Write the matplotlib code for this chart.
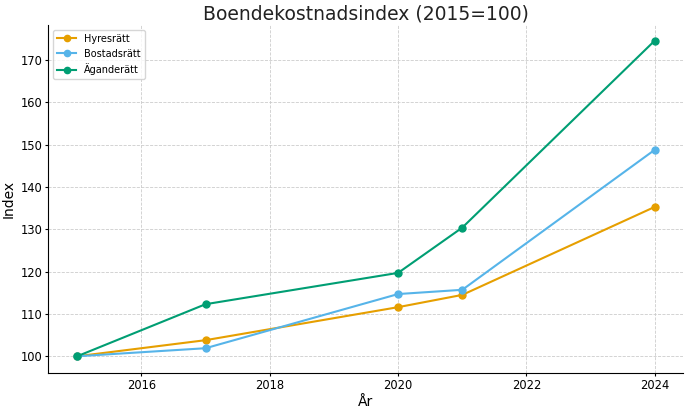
import matplotlib
matplotlib.use("Agg")
import matplotlib.pyplot as plt

# data
years = [2015, 2017, 2020, 2021, 2024]
hyresratt = [100.0, 103.8, 111.6, 114.5, 135.3]
bostadsratt = [100.0, 101.9, 114.7, 115.7, 148.8]
aganderatt = [100.0, 112.3, 119.7, 130.4, 174.6]
xticks = [2016, 2018, 2020, 2022, 2024]
yticks = [100, 110, 120, 130, 140, 150, 160, 170]

fig, ax = plt.subplots(figsize=(6.9, 4.11), dpi=100)

ax.plot(years, hyresratt, marker="o", markersize=5, color="#E69F00", label="Hyresrätt")
ax.plot(years, bostadsratt, marker="o", markersize=5, color="#56B4E9", label="Bostadsrätt")
ax.plot(years, aganderatt, marker="o", markersize=5, color="#009E73", label="Äganderätt")

ax.set_title("Boendekostnadsindex (2015=100)", fontsize=13.5, color="#222222", pad=4)
ax.set_xlabel("År", fontsize=10, labelpad=2)
ax.set_ylabel("Index", fontsize=10, labelpad=4)
ax.set_xticks(xticks)
ax.set_yticks(yticks)
ax.set_xlim(2014.55, 2024.44)
ax.set_ylim(96.0, 178.25)
ax.tick_params(labelsize=8.3, length=2.5, pad=1.5)
ax.grid(True, linestyle="--", linewidth=0.6, color="#cccccc")
ax.spines["top"].set_visible(False)
ax.spines["right"].set_visible(False)
ax.legend(loc="upper left", fontsize=7, markerscale=0.9)

fig.subplots_adjust(left=0.07, right=0.99, top=0.939, bottom=0.092)
plt.savefig("out.png", dpi=100)
